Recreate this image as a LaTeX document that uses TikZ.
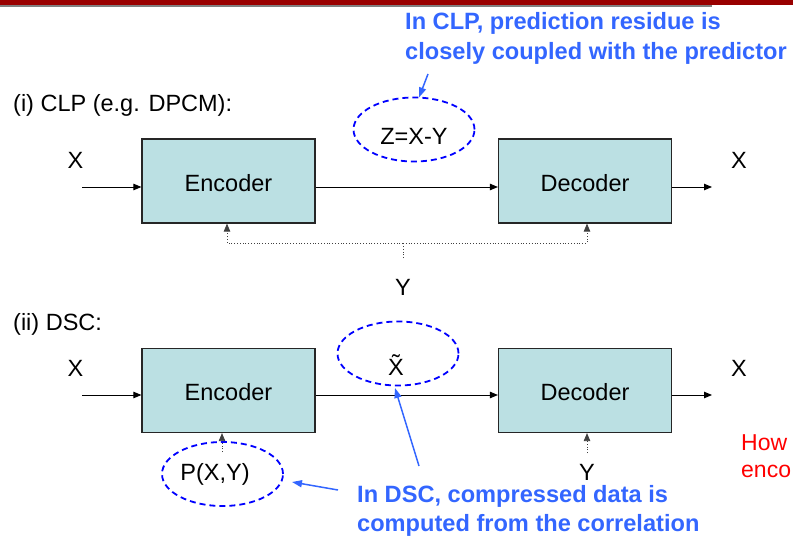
\documentclass[tikz,border=0pt]{standalone}
\usepackage{fontspec}
\setmainfont{Liberation Sans}
\usetikzlibrary{arrows.meta,shapes.geometric}
\definecolor{boxfill}{RGB}{187,224,227}
\definecolor{callout}{RGB}{51,102,255}
\definecolor{barred}{RGB}{153,0,0}
\begin{document}
\begin{tikzpicture}[x=1pt,y=-1pt,
  lbl/.style={font=\fontsize{23.5}{27}\selectfont, inner sep=0pt, anchor=base},
  lblw/.style={font=\fontsize{23.5}{27}\selectfont, inner sep=0pt, anchor=base west},
  callouttxt/.style={font=\bfseries\fontsize{23.6}{29}\selectfont, text=callout, inner sep=0pt, anchor=base west},
  redtxt/.style={font=\fontsize{23}{27}\selectfont, text=red, inner sep=0pt, anchor=base west},
  blk/.style={draw=black!85, line width=1.2pt, fill=boxfill, minimum width=173pt, minimum height=84pt, inner sep=0pt, text height=20pt, text depth=0pt, font=\fontsize{23.5}{27}\selectfont},
  dashell/.style={ellipse, draw=blue, dash pattern=on 6pt off 4pt, line width=1.8pt, minimum width=121pt, minimum height=64pt, inner sep=0pt},
  sig/.style={-{Triangle[length=8pt,width=6.5pt]}, line width=0.9pt},
  fb/.style={dotted, line width=0.8pt, black!75},
  fbarrow/.style={fb, -{Triangle[length=8pt,width=6.5pt]}},
  callarrow/.style={-{Triangle[length=10pt,width=7pt]}, draw=callout, line width=1.5pt}
]
\useasboundingbox (0,0) rectangle (793,538);
\fill[barred] (0,0) rectangle (793,5);
\draw[gray, line width=1.5pt] (0,6) -- (712,6);

% ---------- (i) CLP ----------
\node[lblw] (t1) at (13,111.5) {(i) CLP (e.g. DPCM):};
\node[blk] (enc1) at (228.5,181) {Encoder};
\node[blk] (dec1) at (585,181) {Decoder};
\node[lbl] (x1in) at (75.5,168) {X};
\node[lbl] (x1out) at (739,168) {X};
\coordinate (in1) at (82,187);
\coordinate (out1) at (712,187);
\draw[sig] (in1) -- (enc1.west |- in1);
\draw[sig] (enc1.east |- in1) -- (dec1.west |- in1);
\draw[sig] (dec1.east |- out1) -- (out1);

\coordinate (fbl) at (227,243);
\coordinate (fbr) at (587,243);
\coordinate (fbm) at (403,243);
\coordinate (fbs) at (403,258);
\draw[fb] (fbs) -- (fbm);
\draw[fbarrow] (fbm) -- (fbl) -- (fbl |- enc1.south);
\draw[fbarrow] (fbm) -- (fbr) -- (fbr |- dec1.south);
\node[lbl] (y1) at (403,295) {Y};

\node[dashell] (zell) at (414,129.5) {};
\node[lbl] (ztxt) at (414,144) {Z=X-Y};

\node[callouttxt] (c1a) at (405,30) {In CLP, prediction residue is};
\node[callouttxt] (c1b) at (405,59) {closely coupled with the predictor};
\coordinate (c1tail) at (428,74);
\coordinate (c1head) at (419,97.5);
\draw[callarrow] (c1tail) -- (c1head);

% ---------- (ii) DSC ----------
\node[lblw] (t2) at (13,330) {(ii) DSC:};
\node[blk] (enc2) at (228.5,390.5) {Encoder};
\node[blk] (dec2) at (585,390.5) {Decoder};
\node[lbl] (x2in) at (75.5,376) {X};
\node[lbl] (x2out) at (739,376) {X};
\coordinate (in2) at (82,395);
\coordinate (out2) at (712,395);
\draw[sig] (in2) -- (enc2.west |- in2);
\draw[sig] (enc2.east |- in2) -- (dec2.west |- in2);
\draw[sig] (dec2.east |- out2) -- (out2);

\node[dashell] (xell) at (398,353.5) {};
\node[lbl] (xtxt) at (396,375) {\~{X}};

\node[dashell] (pell) at (222.5,474) {};
\node[lbl] (ptxt) at (215,480) {P(X,Y)};
\coordinate (pin) at (222,452);
\draw[fbarrow] (pin) -- (pin |- enc2.south);

\coordinate (yin) at (587,453);
\draw[fbarrow] (yin) -- (yin |- dec2.south);
\node[lbl] (y2) at (587,480) {Y};

\node[callouttxt] (c2a) at (357,502) {In DSC, compressed data is};
\node[callouttxt] (c2b) at (357,531) {computed from the correlation};
\coordinate (c2tailA) at (419,466);
\coordinate (c2headA) at (395,388);
\draw[callarrow] (c2tailA) -- (c2headA);
\coordinate (c2tailB) at (338,490);
\coordinate (c2headB) at (292,482);
\draw[callarrow] (c2tailB) -- (c2headB);

\node[redtxt] (r1) at (741,450) {How};
\node[redtxt] (r2) at (741,477) {enco};
\end{tikzpicture}
\end{document}
